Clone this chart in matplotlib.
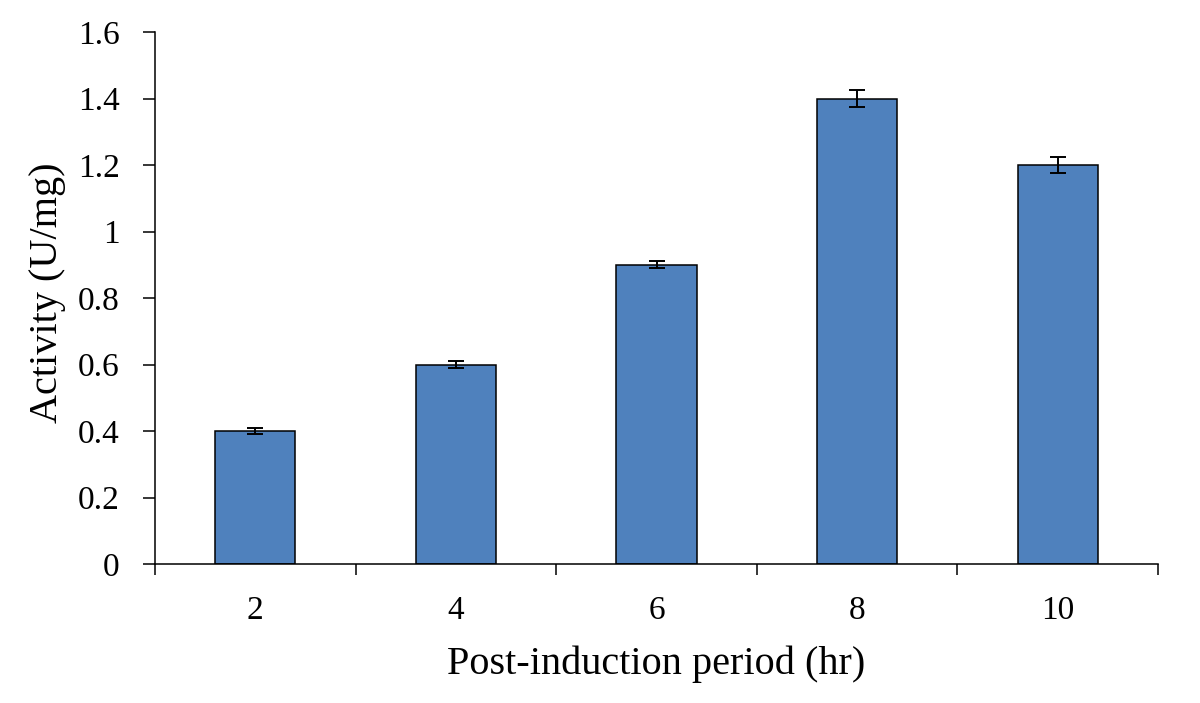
import matplotlib
matplotlib.use("Agg")
import matplotlib.pyplot as plt
import numpy as np

categories = ["2", "4", "6", "8", "10"]
activity = [0.40, 0.60, 0.90, 1.40, 1.20]
errors = [0.01, 0.01, 0.01, 0.025, 0.025]
yticks = [0, 0.2, 0.4, 0.6, 0.8, 1, 1.2, 1.4, 1.6]
ytick_labels = ["0", "0.2", "0.4", "0.6", "0.8", "1", "1.2", "1.4", "1.6"]

plt.rcParams['font.family'] = ['Liberation Serif', 'DejaVu Serif']

fig = plt.figure(figsize=(12, 7.03), dpi=100)
ax = fig.add_axes([155/1200, 1 - 564/703, (1158-155)/1200, (564-32)/703])

x = np.arange(len(categories))
ax.bar(x, activity, width=0.4, color="#4F81BD", edgecolor="black", linewidth=1.1,
       yerr=errors, capsize=6, error_kw=dict(ecolor="black", elinewidth=1.4, capthick=1.4), zorder=2)

ax.set_xlim(-0.5, len(categories) - 0.5)
ax.set_ylim(0, 1.6)
ax.set_yticks(yticks)
ax.set_yticklabels(ytick_labels)
ax.set_xticks(x)
ax.set_xticklabels(categories)
ax.set_xticks(np.arange(len(categories) + 1) - 0.5, minor=True)
ax.tick_params(axis='x', which='major', length=0, labelsize=24, pad=23)
ax.tick_params(axis='x', which='minor', length=8, width=1.1, direction='out')
ax.tick_params(axis='y', which='major', length=8.5, width=1.1, direction='out', labelsize=24, pad=17)

for s in ['top', 'right']:
    ax.spines[s].set_visible(False)
for s in ['left', 'bottom']:
    ax.spines[s].set_linewidth(1.1)

ax.set_xlabel("Post-induction period (hr)", fontsize=29)
ax.set_ylabel("Activity (U/mg)", fontsize=29)
ax.xaxis.set_label_coords(0.5, (564 - 664) / 532)
ax.xaxis.label.set_va('center')
ax.yaxis.set_label_coords((47 - 155) / 1003, 0.51)
ax.yaxis.label.set_va('center')

fig.savefig("out.png", dpi=100)
